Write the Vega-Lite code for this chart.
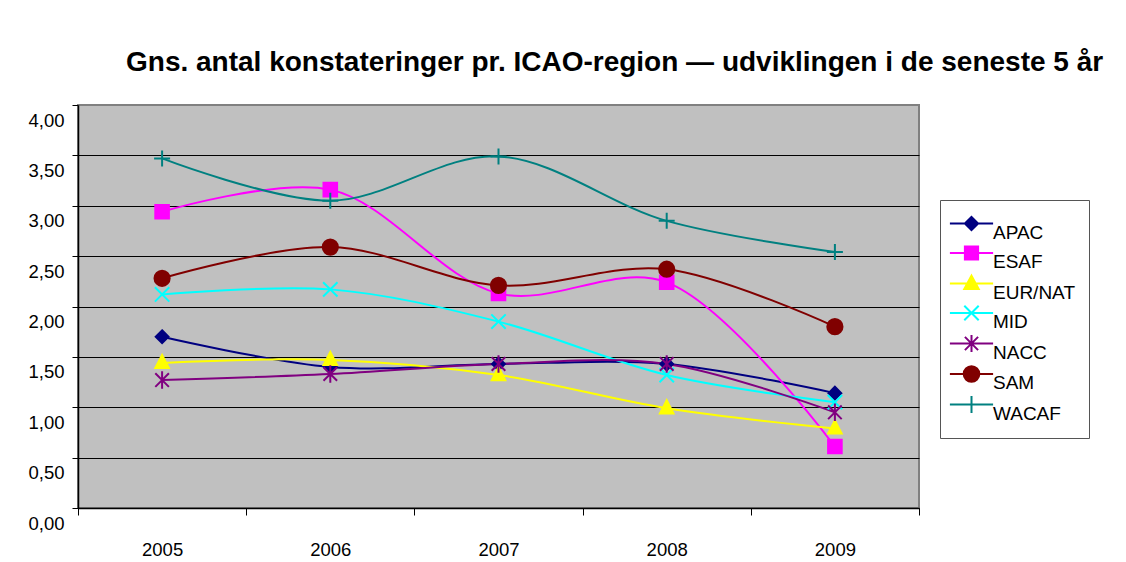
{
  "$schema": "https://vega.github.io/schema/vega-lite/v6.json",
  "width": 841,
  "height": 403,
  "autosize": {"type": "none"},
  "padding": {"left": 78, "top": 105, "right": 207, "bottom": 54},
  "background": "white",
  "title": {
    "text": "Gns. antal konstateringer pr. ICAO-region — udviklingen i de seneste 5 år",
    "anchor": "start",
    "frame": "group",
    "dx": 48,
    "offset": 6,
    "baseline": "alphabetic",
    "font": "Liberation Sans",
    "fontSize": 28,
    "fontWeight": "bold",
    "color": "#000000"
  },
  "data": {
    "values": [
      {"year": "2005", "series": "APAC", "value": 1.70},
      {"year": "2006", "series": "APAC", "value": 1.40},
      {"year": "2007", "series": "APAC", "value": 1.43},
      {"year": "2008", "series": "APAC", "value": 1.43},
      {"year": "2009", "series": "APAC", "value": 1.14},
      {"year": "2005", "series": "ESAF", "value": 2.94},
      {"year": "2006", "series": "ESAF", "value": 3.16},
      {"year": "2007", "series": "ESAF", "value": 2.13},
      {"year": "2008", "series": "ESAF", "value": 2.24},
      {"year": "2009", "series": "ESAF", "value": 0.61},
      {"year": "2005", "series": "EUR/NAT", "value": 1.44},
      {"year": "2006", "series": "EUR/NAT", "value": 1.47},
      {"year": "2007", "series": "EUR/NAT", "value": 1.32},
      {"year": "2008", "series": "EUR/NAT", "value": 0.99},
      {"year": "2009", "series": "EUR/NAT", "value": 0.79},
      {"year": "2005", "series": "MID", "value": 2.12},
      {"year": "2006", "series": "MID", "value": 2.17},
      {"year": "2007", "series": "MID", "value": 1.85},
      {"year": "2008", "series": "MID", "value": 1.32},
      {"year": "2009", "series": "MID", "value": 1.05},
      {"year": "2005", "series": "NACC", "value": 1.27},
      {"year": "2006", "series": "NACC", "value": 1.33},
      {"year": "2007", "series": "NACC", "value": 1.43},
      {"year": "2008", "series": "NACC", "value": 1.43},
      {"year": "2009", "series": "NACC", "value": 0.95},
      {"year": "2005", "series": "SAM", "value": 2.28},
      {"year": "2006", "series": "SAM", "value": 2.59},
      {"year": "2007", "series": "SAM", "value": 2.21},
      {"year": "2008", "series": "SAM", "value": 2.37},
      {"year": "2009", "series": "SAM", "value": 1.80},
      {"year": "2005", "series": "WACAF", "value": 3.47},
      {"year": "2006", "series": "WACAF", "value": 3.05},
      {"year": "2007", "series": "WACAF", "value": 3.49},
      {"year": "2008", "series": "WACAF", "value": 2.85},
      {"year": "2009", "series": "WACAF", "value": 2.54}
    ]
  },
  "encoding": {
    "x": {
      "field": "year",
      "type": "nominal",
      "bandPosition": 0.5,
      "scale": {"type": "band", "paddingInner": 0, "paddingOuter": 0},
      "axis": {
        "title": null,
        "labelAngle": 0,
        "tickBand": "extent",
        "tickSize": 7,
        "tickColor": "#000000",
        "domainColor": "#000000",
        "domainWidth": 1.5,
        "labelPadding": 25,
        "labelFont": "Liberation Sans",
        "labelFontSize": 18.5,
        "labelColor": "#000000",
        "grid": false
      }
    },
    "y": {
      "field": "value",
      "type": "quantitative",
      "scale": {"domain": [0, 4], "nice": false, "zero": true},
      "axis": {
        "title": null,
        "values": [0, 0.5, 1, 1.5, 2, 2.5, 3, 3.5, 4],
        "labelExpr": "replace(format(datum.value, '.2f'), '.', ',')",
        "tickSize": 6,
        "tickColor": "#000000",
        "domainColor": "#000000",
        "domainWidth": 1.5,
        "grid": true,
        "gridColor": {"condition": {"test": "datum.value === 4", "value": "#808080"}, "value": "#000000"},
        "gridWidth": 1,
        "gridOpacity": 1,
        "labelPadding": 8,
        "labelOffset": 15,
        "labelFont": "Liberation Sans",
        "labelFontSize": 18.5,
        "labelColor": "#000000"
      }
    }
  },
  "layer": [
    {
      "mark": {"type": "line", "interpolate": "catmull-rom", "strokeWidth": 2},
      "encoding": {
        "color": {
          "field": "series",
          "type": "nominal",
          "scale": {
            "domain": ["APAC", "ESAF", "EUR/NAT", "MID", "NACC", "SAM", "WACAF"],
            "range": ["#000080", "#FF00FF", "#FFFF00", "#00FFFF", "#800080", "#800000", "#008080"]
          }
        }
      }
    },
    {
      "transform": [{"filter": "datum.series === 'APAC'"}],
      "mark": {"type": "point", "filled": true, "opacity": 1, "size": 256, "strokeWidth": 2, "color": "#000080", "stroke": "#000080", "shape": "M0,-0.8L0.8,0L0,0.8L-0.8,0Z"}
    },
    {
      "transform": [{"filter": "datum.series === 'ESAF'"}],
      "mark": {"type": "point", "filled": true, "opacity": 1, "size": 256, "strokeWidth": 2, "color": "#FF00FF", "stroke": "#FF00FF", "shape": "M-0.85,-0.85L0.85,-0.85L0.85,0.85L-0.85,0.85Z"}
    },
    {
      "transform": [{"filter": "datum.series === 'EUR/NAT'"}],
      "mark": {"type": "point", "filled": true, "opacity": 1, "size": 256, "strokeWidth": 2, "color": "#FFFF00", "stroke": "#FFFF00", "shape": "M0,-1L0.85,0.65L-0.85,0.65Z"}
    },
    {
      "transform": [{"filter": "datum.series === 'MID'"}],
      "mark": {"type": "point", "filled": true, "opacity": 1, "size": 256, "strokeWidth": 2, "color": "#00FFFF", "stroke": "#00FFFF", "shape": "M-0.9,-0.9L0.9,0.9M-0.9,0.9L0.9,-0.9"}
    },
    {
      "transform": [{"filter": "datum.series === 'NACC'"}],
      "mark": {"type": "point", "filled": true, "opacity": 1, "size": 256, "strokeWidth": 2, "color": "#800080", "stroke": "#800080", "shape": "M-0.85,-0.85L0.85,0.85M-0.85,0.85L0.85,-0.85M0,-1.1L0,1.1"}
    },
    {
      "transform": [{"filter": "datum.series === 'SAM'"}],
      "mark": {"type": "point", "filled": true, "opacity": 1, "size": 256, "strokeWidth": 2, "color": "#800000", "stroke": "#800000", "shape": "M-0.95,0A0.95,0.95,0,1,1,0.95,0A0.95,0.95,0,1,1,-0.95,0Z"}
    },
    {
      "transform": [{"filter": "datum.series === 'WACAF'"}],
      "mark": {"type": "point", "filled": true, "opacity": 1, "size": 256, "strokeWidth": 2, "color": "#008080", "stroke": "#008080", "shape": "M-1,0L1,0M0,-1L0,1"}
    },
    {
      "mark": {"type": "point", "filled": true, "opacity": 0},
      "encoding": {
        "color": {
          "field": "series",
          "type": "nominal",
          "scale": {
            "domain": ["APAC", "ESAF", "EUR/NAT", "MID", "NACC", "SAM", "WACAF"],
            "range": ["#000080", "#FF00FF", "#FFFF00", "#00FFFF", "#800080", "#800000", "#008080"]
          }
        },
        "shape": {
          "field": "series",
          "type": "nominal",
          "scale": {
            "domain": ["APAC", "ESAF", "EUR/NAT", "MID", "NACC", "SAM", "WACAF"],
            "range": [
              "M-3.6,0L3.6,0M0,-1.1L1.1,0L0,1.1L-1.1,0Z",
              "M-3.6,0L3.6,0M-1.1,-1.1L1.1,-1.1L1.1,1.1L-1.1,1.1Z",
              "M-3.6,0L3.6,0M0,-1.3L1.2,0.9L-1.2,0.9Z",
              "M-3.6,0L3.6,0M-1.2,-1.2L1.2,1.2M-1.2,1.2L1.2,-1.2",
              "M-3.6,0L3.6,0M-1.1,-1.1L1.1,1.1M-1.1,1.1L1.1,-1.1M0,-1.4L0,1.4",
              "M-3.6,0L3.6,0M-1.3,0A1.3,1.3,0,1,1,1.3,0A1.3,1.3,0,1,1,-1.3,0Z",
              "M-3.6,0L3.6,0M0,-1.4L0,1.4"
            ]
          }
        }
      }
    }
  ],
  "config": {
    "view": {"fill": "#C0C0C0", "stroke": "#808080", "strokeWidth": 2},
    "axis": {"labelFont": "Liberation Sans"},
    "legend": {
      "title": null,
      "orient": "none",
      "legendX": 862,
      "legendY": 95,
      "padding": 14,
      "symbolOffset": 8,
      "labelOffset": 12,
      "rowPadding": -1.5,
      "symbolSize": 144,
      "symbolStrokeWidth": 2,
      "symbolOpacity": 1,
      "labelFont": "Liberation Sans",
      "labelFontSize": 19,
      "labelColor": "#000000",
      "labelBaseline": "top",
      "strokeColor": "#555555",
      "fillColor": "#FFFFFF"
    }
  }
}
